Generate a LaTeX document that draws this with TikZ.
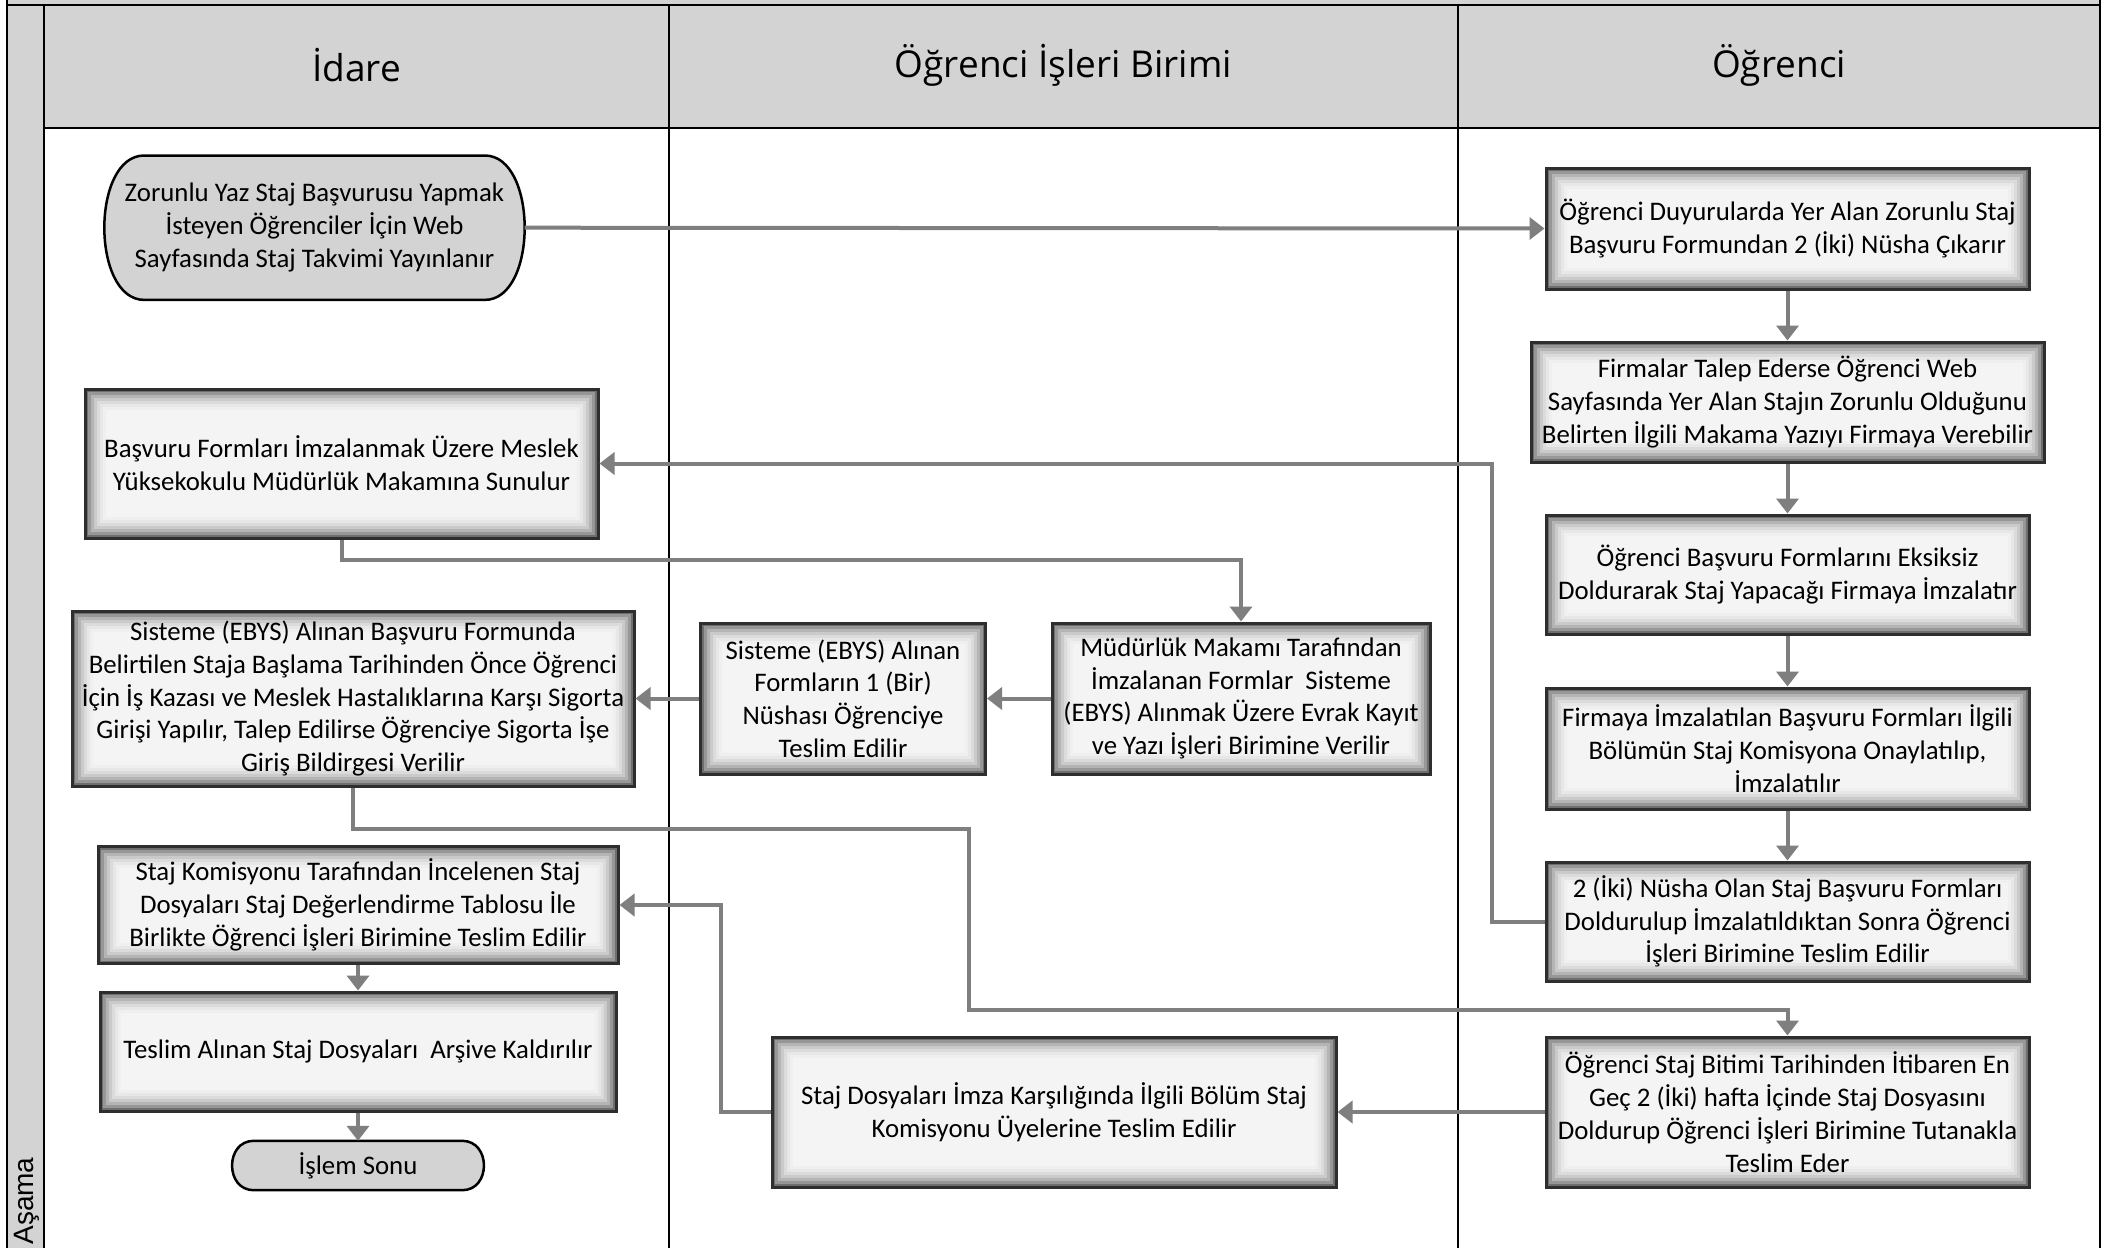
\documentclass[tikz,border=0pt]{standalone}
\usepackage{fontspec}
\setmainfont{Carlito}
\newfontfamily\hdrfont{Open Sans}
\newfontfamily\sidefont{Liberation Sans}
\usetikzlibrary{arrows.meta,calc}
\pgfdeclarelayer{bg}
\pgfsetlayers{bg,main}
\definecolor{hdrgray}{HTML}{D3D3D3}
\definecolor{conngray}{HTML}{7F7F7F}
\definecolor{boxfill}{HTML}{F4F4F4}
\definecolor{boxedge}{HTML}{2E2E2E}
\newcommand\bodyfont{\fontsize{26.8}{32.8}\selectfont}
\tikzset{
  lane/.style={draw=black, line width=2.5pt},
  conn/.style={draw=conngray, line width=4pt, -{Triangle[length=15pt,width=22pt]}},
  procbox/.style={draw=boxedge, line width=3pt, fill=boxfill, align=center, inner sep=0pt, font=\bodyfont,
    path picture={
      \foreach \d/\o in {1.5/0.55,4.5/0.38,7.5/0.26,10.5/0.17,13.5/0.1,16.5/0.05,19.5/0.02}{
        \draw[black, opacity=\o, line width=3pt]
          ([shift={(\d pt,-\d pt)}]path picture bounding box.north west) rectangle
          ([shift={(-\d pt,\d pt)}]path picture bounding box.south east);
      }
    }},
  termtext/.style={align=center, inner sep=0pt, font=\bodyfont},
  termshape/.style={draw=black, line width=2.5pt, fill=hdrgray},
  hdr/.style={font=\hdrfont\fontsize{37}{40}\selectfont, inner sep=0pt},
}
\begin{document}
\begin{tikzpicture}[x=1pt,y=-1pt]
\useasboundingbox (0,0) rectangle (2125,1248);
% ---------- frame ----------
\begin{pgfonlayer}{bg}
  \fill[white] (0,0) rectangle (2125,1248);
  \fill[hdrgray] (7,0) rectangle (2100,5);
  \fill[hdrgray] (44,5) rectangle (2100,128);
  \fill[hdrgray] (7,5) rectangle (44,1248);
  \draw[lane] (7,5) -- (2100,5);
  \draw[lane] (44,128) -- (2100,128);
  \draw[lane] (7,0) -- (7,1248);
  \draw[lane] (44,5) -- (44,1248);
  \draw[lane] (669,5) -- (669,1248);
  \draw[lane] (1458,5) -- (1458,1248);
  \draw[lane] (2100,0) -- (2100,1248);
\end{pgfonlayer}
% ---------- headers ----------
\node[hdr] (h1) at (356.5,65) {İdare};
\node[hdr] (h2) at (1063.5,65) {Öğrenci İşleri Birimi};
\node[hdr] (h3) at (1779,65) {Öğrenci};
\node[rotate=90, font=\sidefont\fontsize{28}{30}\selectfont, inner sep=0pt] (side) at (27,1201) {Aşama};
% ---------- nodes ----------
\node[termtext, minimum width=420pt, minimum height=144pt] (start) at (314.5,227.7)
  {Zorunlu Yaz Staj Başvurusu Yapmak\\İsteyen Öğrenciler İçin Web\\Sayfasında Staj Takvimi Yayınlanır};
\node[procbox, minimum width=483pt, minimum height=121pt] (n1) at (1787.5,228.5)
  {Öğrenci Duyurularda Yer Alan Zorunlu Staj\\Başvuru Formundan 2 (İki) Nüsha Çıkarır};
\node[procbox, minimum width=513pt, minimum height=120pt] (n2) at (1787.5,402)
  {Firmalar Talep Ederse Öğrenci Web\\Sayfasında Yer Alan Stajın Zorunlu Olduğunu\\Belirten İlgili Makama Yazıyı Firmaya Verebilir};
\node[procbox, minimum width=483pt, minimum height=119pt] (n3) at (1787.5,574.5)
  {Öğrenci Başvuru Formlarını Eksiksiz\\Doldurarak Staj Yapacağı Firmaya İmzalatır};
\node[procbox, minimum width=483pt, minimum height=121pt] (n4) at (1787.5,748.5)
  {Firmaya İmzalatılan Başvuru Formları İlgili\\Bölümün Staj Komisyona Onaylatılıp,\\İmzalatılır};
\node[procbox, minimum width=483pt, minimum height=119pt] (n5) at (1787.5,921.5)
  {2 (İki) Nüsha Olan Staj Başvuru Formları\\Doldurulup İmzalatıldıktan Sonra Öğrenci\\İşleri Birimine Teslim Edilir};
\node[procbox, minimum width=483pt, minimum height=150pt] (n6) at (1787.5,1112)
  {Öğrenci Staj Bitimi Tarihinden İtibaren En\\Geç 2 (İki) hafta İçinde Staj Dosyasını\\Doldurup Öğrenci İşleri Birimine Tutanakla\\Teslim Eder};
\node[procbox, minimum width=513pt, minimum height=149pt] (a1) at (341.5,463.5)
  {Başvuru Formları İmzalanmak Üzere Meslek\\Yüksekokulu Müdürlük Makamına Sunulur};
\node[procbox, minimum width=378pt, minimum height=151pt] (b1) at (1241,698.5)
  {Müdürlük Makamı Tarafından\\İmzalanan Formlar\ \ Sisteme\\(EBYS) Alınmak Üzere Evrak Kayıt\\ve Yazı İşleri Birimine Verilir};
\node[procbox, minimum width=285pt, minimum height=151pt] (b2) at (843,698.5)
  {Sisteme (EBYS) Alınan\\Formların 1 (Bir)\\Nüshası Öğrenciye\\Teslim Edilir};
\node[procbox, minimum width=562pt, minimum height=175pt] (a2) at (353,698.5)
  {Sisteme (EBYS) Alınan Başvuru Formunda\\Belirtilen Staja Başlama Tarihinden Önce Öğrenci\\İçin İş Kazası ve Meslek Hastalıklarına Karşı Sigorta\\Girişi Yapılır, Talep Edilirse Öğrenciye Sigorta İşe\\Giriş Bildirgesi Verilir};
\node[procbox, minimum width=520pt, minimum height=117pt] (a3) at (358,905)
  {Staj Komisyonu Tarafından İncelenen Staj\\Dosyaları Staj Değerlendirme Tablosu İle\\Birlikte Öğrenci İşleri Birimine Teslim Edilir};
\node[procbox, minimum width=516pt, minimum height=119pt] (a4) at (358,1051.5)
  {Teslim Alınan Staj Dosyaları\ \ Arşive Kaldırılır};
\node[termtext, minimum width=252pt, minimum height=49pt] (fin) at (358,1165.5) {İşlem Sonu};
\node[procbox, minimum width=564pt, minimum height=150pt] (b3) at (1054,1112)
  {Staj Dosyaları İmza Karşılığında İlgili Bölüm Staj\\Komisyonu Üyelerine Teslim Edilir};
% ---------- terminal outlines ----------
\begin{pgfonlayer}{bg}
  \draw[termshape] ([xshift=40pt]start.north west) -- ([xshift=-40pt]start.north east)
    .. controls +(53.3pt,0pt) and +(53.3pt,0pt) .. ([xshift=-40pt]start.south east)
    -- ([xshift=40pt]start.south west)
    .. controls +(-53.3pt,0pt) and +(-53.3pt,0pt) .. ([xshift=40pt]start.north west) -- cycle;
  \draw[termshape] ([xshift=22pt]fin.north west) -- ([xshift=-22pt]fin.north east)
    .. controls +(29pt,0pt) and +(29pt,0pt) .. ([xshift=-22pt]fin.south east)
    -- ([xshift=22pt]fin.south west)
    .. controls +(-29pt,0pt) and +(-29pt,0pt) .. ([xshift=22pt]fin.north west) -- cycle;
\end{pgfonlayer}
% ---------- helper coordinates ----------
\coordinate (t1) at (1492,921.5);
\coordinate (j1) at (1241,560);
\coordinate (j2) at (969,829);
\coordinate (j3) at (969,1009.5);
\coordinate (j4) at (721,1112);
% ---------- connectors ----------
\draw[conn] (start.east) -- (n1.west);
\draw[conn] (n1.south) -- (n2.north);
\draw[conn] (n2.south) -- (n3.north);
\draw[conn] (n3.south) -- (n4.north);
\draw[conn] (n4.south) -- (n5.north);
\draw[conn] (n5.west) -- (t1) |- (a1.east);
\draw[conn] (a1.south) |- (j1) -- (b1.north);
\draw[conn] (b1.west) -- (b2.east);
\draw[conn] (b2.west) -- (a2.east);
\draw[conn] (a2.south) |- (j2) -- (j3) -| (n6.north);
\draw[conn] (n6.west) -- (b3.east);
\draw[conn] (b3.west) -- (j4) |- (a3.east);
\draw[conn] (a3.south) -- (a4.north);
\draw[conn] (a4.south) -- (fin.north);
\end{tikzpicture}
\end{document}
